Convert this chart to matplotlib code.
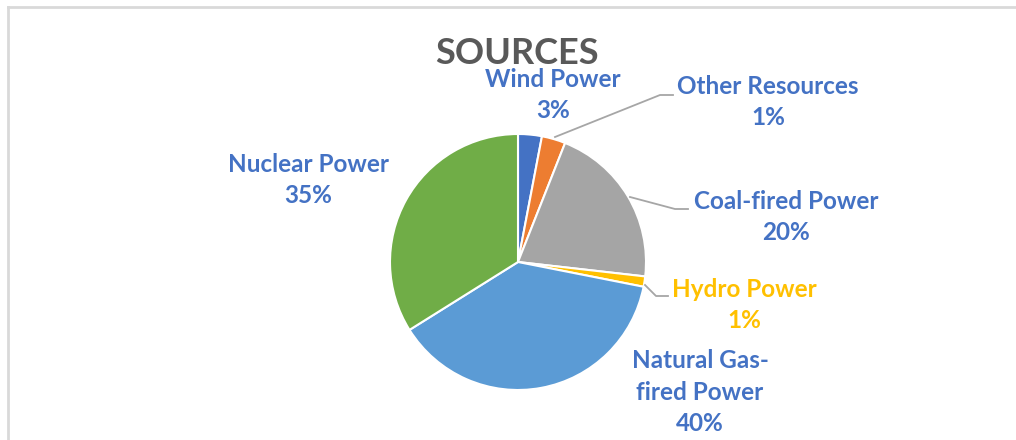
import matplotlib.pyplot as plt
from matplotlib.lines import Line2D

# slice sizes as drawn, labels as printed
sources = ['Wind Power', 'Other Resources', 'Coal-fired Power', 'Hydro Power',
           'Natural Gas-\nfired Power', 'Nuclear Power']
shares = [3.0, 3.0, 20.8, 1.3, 38.0, 33.9]
pct_text = ['3%', '1%', '20%', '1%', '40%', '35%']
colors = ['#4472C4', '#ED7D31', '#A5A5A5', '#FFC000', '#5B9BD5', '#70AD47']
label_colors = ['#4472C4', '#4472C4', '#4472C4', '#FFC000', '#4472C4', '#4472C4']

W, H = 1016, 440
fig = plt.figure(figsize=(W / 100, H / 100), dpi=100)
ax = fig.add_axes([0, 0, 1, 1])

cx, cy, r = 518, H - 262, 128
ax.pie(shares, colors=colors, startangle=90, counterclock=False,
       center=(cx, cy), radius=r,
       wedgeprops=dict(edgecolor='white', linewidth=1.5))

ax.set_xlim(0, W)
ax.set_ylim(0, H)
ax.set_aspect('equal')
ax.axis('off')

# label positions (pixel coords from top-left)
pos = [(553, 95), (768, 102), (786, 217), (744, 305), (700, 392), (308, 180)]
font = ['Lato', 'DejaVu Sans']
for name, p, (x, y), c in zip(sources, pct_text, pos, label_colors):
    ax.text(x, H - y, name + '\n' + p, ha='center', va='center', color=c,
            fontsize=17.5, fontweight='bold', family=font, linespacing=1.45)

# leader lines
leaders = [
    [(555, 137), (660, 95), (673, 95)],
    [(630, 197), (675, 209), (688, 209)],
    [(645, 285), (656, 296), (668, 296)],
]
for pts in leaders:
    xs = [p[0] for p in pts]
    ys = [H - p[1] for p in pts]
    ax.plot(xs, ys, color='#A6A6A6', lw=1.3)

ax.text(517, H - 53, 'SOURCES', ha='center', va='center', color='#595959',
        fontsize=26, fontweight='bold', family=font)

# chart frame (left and top edges visible)
fig.add_artist(Line2D([7.5 / W, 7.5 / W], [0, 1 - 7.5 / H], color='#D9D9D9', lw=2))
fig.add_artist(Line2D([7.5 / W, 1], [1 - 7.5 / H, 1 - 7.5 / H], color='#D9D9D9', lw=2))

fig.savefig('out.png', dpi=100)
